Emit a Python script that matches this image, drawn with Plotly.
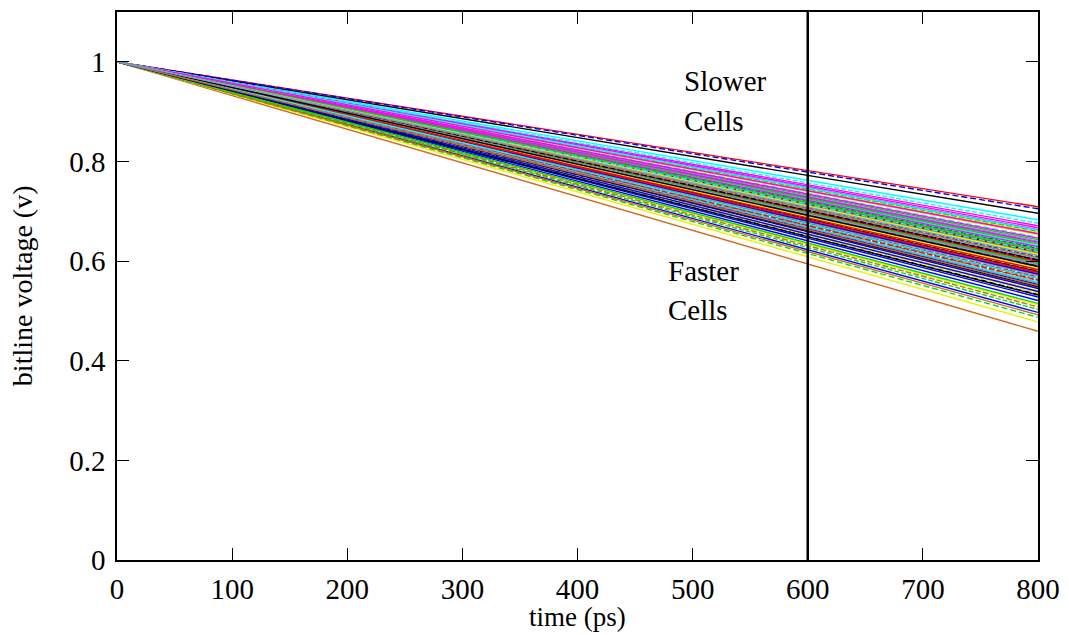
import plotly.graph_objects as go

# Bitline discharge: every cell starts at 1 V at t = 0 and is sampled again at 800 ps
times_ps = [0, 800]
start_voltage = 1.0

# Voltage reached at 800 ps by each simulated cell (one trace per cell)
end_voltages = [
    0.709, 0.612, 0.584, 0.663, 0.683, 0.571, 0.696, 0.459, 0.598,
    0.588, 0.556, 0.521, 0.671, 0.627, 0.478, 0.603, 0.547, 0.636,
    0.574, 0.487, 0.705, 0.592, 0.648, 0.613, 0.533, 0.581, 0.566,
    0.621, 0.643, 0.497, 0.667, 0.558, 0.589, 0.618, 0.492, 0.605,
    0.655, 0.578, 0.545, 0.601, 0.631, 0.653, 0.566, 0.596, 0.640,
    0.568, 0.503, 0.609, 0.585, 0.676, 0.536, 0.625, 0.561, 0.587,
    0.599, 0.634, 0.553, 0.646, 0.594, 0.512, 0.579, 0.616, 0.571,
    0.583, 0.596, 0.528, 0.638, 0.606, 0.658, 0.549, 0.574, 0.623,
    0.562, 0.660, 0.591, 0.577, 0.619, 0.541, 0.602, 0.508, 0.556,
    0.593, 0.515, 0.574, 0.629, 0.662, 0.586, 0.532, 0.607, 0.593,
    0.577, 0.624, 0.539, 0.655, 0.566, 0.614, 0.589, 0.551, 0.611,
]

x_ticks = [0, 100, 200, 300, 400, 500, 600, 700, 800]
y_ticks = [0, 0.2, 0.4, 0.6, 0.8, 1.0]
y_tick_labels = ["0", "0.2", "0.4", "0.6", "0.8", "1"]
sense_time_ps = 600

# gnuplot-like line type cycle
palette = ["#ff0000", "#00e000", "#0000ff", "#ff00ff", "#00ffff",
           "#f0f000", "#000000", "#d2691e", "#6fa0e0"]
dash_cycle = ["solid", "solid", "6px,3px", "solid", "solid", "5px,2px",
              "solid", "solid", "6px,2px", "solid", "solid"]

FONT = "Liberation Serif"
FSIZE = 29

fig = go.Figure()
for i, v_end in enumerate(end_voltages):
    fig.add_trace(go.Scatter(
        x=times_ps,
        y=[start_voltage, v_end],
        mode="lines",
        line=dict(color=palette[i % len(palette)],
                  dash=dash_cycle[(i // len(palette)) % len(dash_cycle)],
                  width=1.4),
        showlegend=False,
        hoverinfo="skip",
    ))

# sense point marker
fig.add_shape(type="line", x0=sense_time_ps, x1=sense_time_ps, y0=0, y1=1,
              xref="x", yref="paper", line=dict(color="black", width=2.5))

for txt, x, y in [("Slower", 491, 0.962), ("Cells", 491, 0.882),
                  ("Faster", 477, 0.581), ("Cells", 477, 0.501)]:
    fig.add_annotation(x=x, y=y, text=txt, showarrow=False, xanchor="left",
                       yanchor="middle", font=dict(family=FONT, size=FSIZE, color="black"))

# axis titles placed explicitly to keep them clear of the tick labels
fig.add_annotation(text="time (ps)", xref="paper", yref="paper", x=0.5, y=-0.104,
                   xanchor="center", yanchor="middle", showarrow=False, borderpad=0,
                   font=dict(family=FONT, size=27, color="black"))
fig.add_annotation(text="bitline voltage (v)", xref="paper", yref="paper", x=-0.103, y=0.5,
                   xanchor="center", yanchor="middle", textangle=-90, showarrow=False,
                   font=dict(family=FONT, size=28, color="black"))

axis_common = dict(
    showgrid=False, zeroline=False, showline=True, linecolor="black", linewidth=1.5,
    mirror="ticks", ticks="inside", ticklen=12, tickwidth=1.2, tickcolor="black",
    tickfont=dict(family=FONT, size=FSIZE, color="black"), automargin=False,
)

fig.update_xaxes(range=[0, 800], tickvals=x_ticks, ticktext=[str(t) for t in x_ticks],
                 ticklabelstandoff=2, **axis_common)
fig.update_yaxes(range=[0, 1.1], tickvals=y_ticks, ticktext=y_tick_labels,
                 ticklabelstandoff=4, **axis_common)

fig.update_layout(
    width=1069, height=635,
    margin=dict(l=117, r=31, t=12, b=75),
    plot_bgcolor="white", paper_bgcolor="white",
)

fig.write_html("out.html")
